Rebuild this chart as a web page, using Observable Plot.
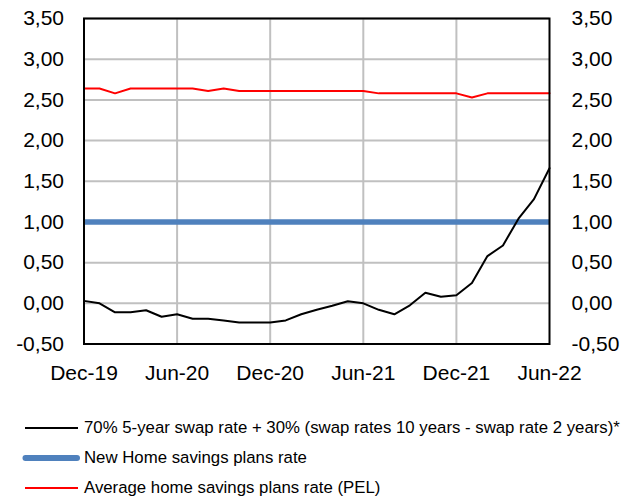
<!DOCTYPE html>
<html><head><meta charset="utf-8">
<script src="https://cdn.jsdelivr.net/npm/d3@7"></script>
<script src="https://cdn.jsdelivr.net/npm/@observablehq/plot@0.6"></script>
<style>
body{margin:0;background:#fff;font-family:"Liberation Sans",Arial,sans-serif;}
#legend{padding-top:18px;}
.row{height:30px;display:flex;align-items:center;font-size:16.8px;color:#000;white-space:nowrap;}
.row svg{margin-left:22px;margin-right:4px;flex:none;}
</style></head><body><div id="chart"></div><div id="legend"></div>
<script>
const months = ["Dec-19","Jan-20","Feb-20","Mar-20","Apr-20","May-20","Jun-20","Jul-20","Aug-20","Sep-20","Oct-20","Nov-20","Dec-20","Jan-21","Feb-21","Mar-21","Apr-21","May-21","Jun-21","Jul-21","Aug-21","Sep-21","Oct-21","Nov-21","Dec-21","Jan-22","Feb-22","Mar-22","Apr-22","May-22","Jun-22"];
const swapRate = [0.03,0.00,-0.11,-0.11,-0.085,-0.165,-0.135,-0.19,-0.19,-0.21,-0.235,-0.235,-0.235,-0.21,-0.135,-0.08,-0.03,0.025,0.00,-0.08,-0.135,-0.025,0.13,0.08,0.10,0.25,0.58,0.71,1.04,1.28,1.66];
const newPelRate = [1.00,1.00,1.00,1.00,1.00,1.00,1.00,1.00,1.00,1.00,1.00,1.00,1.00,1.00,1.00,1.00,1.00,1.00,1.00,1.00,1.00,1.00,1.00,1.00,1.00,1.00,1.00,1.00,1.00,1.00,1.00];
const avgPelRate = [2.64,2.64,2.58,2.64,2.64,2.64,2.64,2.64,2.61,2.64,2.61,2.61,2.61,2.61,2.61,2.61,2.61,2.61,2.61,2.58,2.58,2.58,2.58,2.58,2.58,2.53,2.58,2.58,2.58,2.58,2.58];
const yTicks = [-0.5,0,0.5,1,1.5,2,2.5,3,3.5];
const xTickIdx = [0,6,12,18,24,30];
const seriesNames = ["70% 5-year swap rate + 30% (swap rates 10 years - swap rate 2 years)*","New Home savings plans rate","Average home savings plans rate (PEL)"];
const seriesColors = ["#000000","#4F81BD","#FF0000"];

const rows = months.map((m,i)=>({i, m, swap: swapRate[i], newPel: newPelRate[i], pel: avgPelRate[i]}));
const fmt = d => d.toFixed(2).replace(".", ",");

const chart = Plot.plot({
  width: 632, height: 395,
  marginLeft: 83.5, marginRight: 83, marginTop: 18, marginBottom: 51.5,
  style: {fontFamily: "'Liberation Sans', Arial, sans-serif", fontSize: "21px", color: "#000", background: "#fff"},
  x: {domain: [0, 30]},
  y: {domain: [-0.5, 3.5]},
  marks: [
    Plot.gridY(yTicks, {stroke: "#c0c0c0", strokeOpacity: 1, strokeWidth: 2}),
    Plot.gridX(xTickIdx.slice(1, -1), {stroke: "#c0c0c0", strokeOpacity: 1, strokeWidth: 2}),
    Plot.axisY(yTicks, {anchor: "left", tickSize: 0, tickPadding: 20, tickFormat: fmt, label: null, fontSize: 21}),
    Plot.axisY(yTicks, {anchor: "right", tickSize: 0, tickPadding: 22, tickFormat: fmt, label: null, fontSize: 21}),
    Plot.axisX(xTickIdx, {anchor: "bottom", tickSize: 0, tickPadding: 21, tickFormat: i => months[i], label: null, fontSize: 21}),
    Plot.lineY(rows, {x: "i", y: "pel", stroke: seriesColors[2], strokeWidth: 2}),
    Plot.lineY(rows, {x: "i", y: "newPel", stroke: seriesColors[1], strokeWidth: 5.5, strokeLinecap: "butt"}),
    Plot.lineY(rows, {x: "i", y: "swap", stroke: seriesColors[0], strokeWidth: 2}),
    Plot.frame({stroke: "#000", strokeWidth: 2})
  ]
});
document.getElementById("chart").appendChild(chart);

const legend = document.getElementById("legend");
const widths = [2, 6, 2];
seriesNames.forEach((name, k) => {
  const row = document.createElement("div");
  row.className = "row";
  const thick = widths[k] > 3;
  row.innerHTML = `<svg width="58" height="10"><line x1="${thick ? 3.5 : 3}" x2="${thick ? 55 : 56}" y1="5" y2="5" stroke="${seriesColors[k]}" stroke-width="${widths[k]}" stroke-linecap="${thick ? "round" : "butt"}"/></svg><span>${name}</span>`;
  legend.appendChild(row);
});
</script>
</body></html>
